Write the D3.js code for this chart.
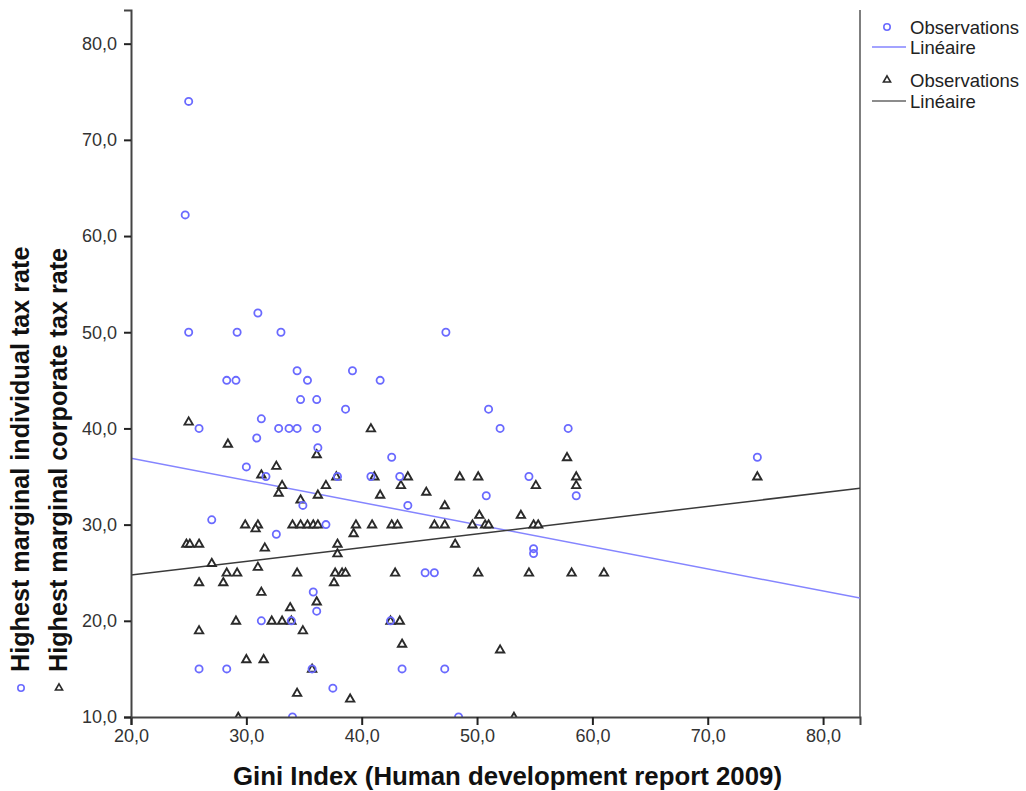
<!DOCTYPE html>
<html>
<head>
<meta charset="utf-8">
<script src="https://cdn.jsdelivr.net/npm/d3@7"></script>
<style>
  html, body { margin: 0; padding: 0; background: #fff; }
  svg { display: block; }
  text { font-family: Arial, "Liberation Sans", sans-serif; }
</style>
</head>
<body>
<svg id="chart" width="1026" height="791"></svg>
<script>
// Gini index vs. highest marginal individual tax rate (circles)
const individualGini = [25.0, 24.7, 25.0, 25.9, 27.0, 25.9, 28.3, 29.1, 29.2, 31.0, 30.9, 31.3, 30.0, 31.7, 32.6,
  33.0, 34.4, 35.3, 34.7, 36.1, 32.8, 33.7, 34.4, 36.1, 36.2, 34.9, 36.9, 35.8, 36.1, 31.3, 33.9, 28.3, 35.7,
  34.0, 37.5, 37.9, 38.6, 39.2, 41.6, 40.8, 42.6, 43.3, 44.0, 42.5, 43.5, 45.5, 46.3, 47.3, 47.2, 48.4, 50.8,
  51.0, 52.0, 54.5, 54.9, 54.9, 57.9, 58.6, 74.3];
const individualRate = [74.0, 62.2, 50.0, 40.0, 30.5, 15.0, 45.0, 45.0, 50.0, 52.0, 39.0, 41.0, 36.0, 35.0, 29.0,
  50.0, 46.0, 45.0, 43.0, 43.0, 40.0, 40.0, 40.0, 40.0, 38.0, 32.0, 30.0, 23.0, 21.0, 20.0, 20.0, 15.0, 15.0,
  10.0, 13.0, 35.0, 42.0, 46.0, 45.0, 35.0, 37.0, 35.0, 32.0, 20.0, 15.0, 25.0, 25.0, 50.0, 15.0, 10.0, 33.0,
  42.0, 40.0, 35.0, 27.5, 27.0, 40.0, 33.0, 37.0];

// Gini index vs. highest marginal corporate tax rate (triangles)
const corporateGini = [25.0, 28.4, 36.1, 40.8, 37.8, 41.1, 44.0, 48.5, 50.1, 36.9, 43.4, 36.2, 41.6, 45.6, 32.6,
  31.3, 33.1, 32.8, 34.7, 29.9, 31.0, 30.8, 34.0, 34.7, 35.3, 35.8, 36.2, 24.8, 25.1, 25.9, 31.6, 27.0, 31.0,
  28.3, 29.2, 34.4, 25.9, 28.0, 31.3, 36.1, 33.8, 29.1, 32.2, 33.1, 33.9, 34.9, 25.9, 30.0, 31.5, 35.7, 34.4,
  29.3, 53.2, 39.0, 47.2, 50.2, 39.5, 40.9, 42.6, 43.1, 46.3, 47.2, 49.6, 50.7, 51.0, 39.3, 37.9, 37.9, 48.1,
  37.7, 38.3, 38.6, 42.9, 50.1, 37.6, 42.5, 43.3, 43.5, 52.0, 57.8, 58.6, 55.1, 58.6, 53.8, 54.9, 55.3, 54.5,
  58.2, 61.0, 74.3];
const corporateRate = [40.7, 38.4, 37.3, 40.0, 35.0, 35.0, 35.0, 35.0, 35.0, 34.1, 34.1, 33.1, 33.1, 33.4, 36.1,
  35.2, 34.1, 33.3, 32.6, 30.0, 30.0, 29.6, 30.0, 30.0, 30.0, 30.0, 30.0, 28.0, 28.0, 28.0, 27.6, 26.0, 25.6,
  25.0, 25.0, 25.0, 24.0, 24.0, 23.0, 22.0, 21.4, 20.0, 20.0, 20.0, 20.0, 19.0, 19.0, 16.0, 16.0, 15.0, 12.5,
  10.0, 10.0, 11.9, 32.0, 31.0, 30.0, 30.0, 30.0, 30.0, 30.0, 30.0, 30.0, 30.0, 30.0, 29.1, 28.0, 27.0, 28.0,
  25.0, 25.0, 25.0, 25.0, 25.0, 24.0, 20.0, 20.0, 17.6, 17.0, 37.0, 35.0, 34.1, 34.1, 31.0, 30.0, 30.0, 25.0,
  25.0, 25.0, 35.0];

// Linear fits: [intercept at Gini = 20, slope]
const individualFit = [36.9, -0.230];
const corporateFit = [24.75, 0.143];

const xTicks = [20, 30, 40, 50, 60, 70, 80];
const yTicks = [10, 20, 30, 40, 50, 60, 70, 80];
const xDomain = [20, 83.2];
const yDomain = [10, 83.5];

const xTitle = "Gini Index (Human development report 2009)";
const yTitles = ["Highest marginal individual tax rate", "Highest marginal corporate tax rate"];
const legendLabels = ["Observations", "Linéaire", "Observations", "Linéaire"];

const blue = "#6a6aff";
const blueLine = "#8585ff";
const dark = "#2a2a2a";

const plot = { left: 131, top: 10, right: 860, bottom: 717 };

const svg = d3.select("#chart");
const x = d3.scaleLinear().domain(xDomain).range([plot.left, plot.right]);
const y = d3.scaleLinear().domain(yDomain).range([plot.bottom, plot.top]);
const fmt = v => d3.format(".1f")(v).replace(".", ",");

svg.append("defs").append("clipPath").attr("id", "plotClip")
  .append("rect")
  .attr("x", plot.left).attr("y", plot.top)
  .attr("width", plot.right - plot.left).attr("height", plot.bottom - plot.top);

// right edge of the data area
svg.append("line")
  .attr("x1", plot.right).attr("x2", plot.right)
  .attr("y1", plot.top).attr("y2", plot.bottom)
  .attr("stroke", "#555").attr("stroke-width", 1.5);

const g = svg.append("g").attr("clip-path", "url(#plotClip)");

// fit lines
function fitLine(fit, color) {
  const pts = xDomain.map(v => [v, fit[0] + fit[1] * (v - 20)]);
  g.append("path")
    .attr("d", d3.line().x(d => x(d[0])).y(d => y(d[1]))(pts))
    .attr("fill", "none").attr("stroke", color).attr("stroke-width", 1.5);
}
fitLine(individualFit, blueLine);
fitLine(corporateFit, "#3a3a3a");

const triPath = d3.symbol().type(d3.symbolTriangle).size(30)();

// triangles
g.selectAll("path.tri").data(d3.range(corporateGini.length)).join("path")
  .attr("class", "tri")
  .attr("d", triPath)
  .attr("transform", i => `translate(${x(corporateGini[i])},${y(corporateRate[i]) + 0.5})`)
  .attr("fill", "#fff").attr("stroke", dark).attr("stroke-width", 1.9);

// circles
g.selectAll("circle.obs").data(d3.range(individualGini.length)).join("circle")
  .attr("class", "obs")
  .attr("cx", i => x(individualGini[i]))
  .attr("cy", i => y(individualRate[i]))
  .attr("r", 3.6)
  .attr("fill", "none").attr("stroke", blue).attr("stroke-width", 1.8);

// axes
const xAxis = svg.append("g").attr("transform", `translate(0,${plot.bottom})`)
  .call(d3.axisBottom(x).tickValues(xTicks).tickFormat(fmt).tickSize(8).tickPadding(4));
const yAxis = svg.append("g").attr("transform", `translate(${plot.left},0)`)
  .call(d3.axisLeft(y).tickValues(yTicks).tickFormat(fmt).tickSize(7).tickPadding(7));

[xAxis, yAxis].forEach(a => {
  a.select(".domain").attr("stroke", "#444").attr("stroke-width", 2);
  a.selectAll(".tick line").attr("stroke", "#222").attr("stroke-width", 2);
  a.selectAll(".tick text").attr("fill", "#333").style("font-size", "18px");
});

// axis titles
svg.append("text")
  .attr("x", (plot.left + plot.right) / 2 + 12).attr("y", 785)
  .attr("text-anchor", "middle")
  .style("font-size", "25.8px").style("font-weight", "bold").attr("fill", "#111")
  .text(xTitle);

[20, 58].forEach((cx, i) => {
  svg.append("text")
    .attr("transform", `translate(${cx + 9},672) rotate(-90)`)
    .attr("text-anchor", "start")
    .style("font-size", "25.2px").style("font-weight", "bold").attr("fill", "#111")
    .text(yTitles[i]);
});
svg.append("circle").attr("cx", 21).attr("cy", 688).attr("r", 3.2)
  .attr("fill", "none").attr("stroke", blue).attr("stroke-width", 1.6);
svg.append("path").attr("d", d3.symbol().type(d3.symbolTriangle).size(22)())
  .attr("transform", "translate(59,688)")
  .attr("fill", "#fff").attr("stroke", dark).attr("stroke-width", 1.6);

// legend
const legend = svg.append("g");
const rows = [27, 47, 80, 101];
legend.append("circle").attr("cx", 887).attr("cy", rows[0]).attr("r", 3.2)
  .attr("fill", "none").attr("stroke", blue).attr("stroke-width", 1.6);
legend.append("line").attr("x1", 872).attr("x2", 906).attr("y1", rows[1]).attr("y2", rows[1])
  .attr("stroke", blueLine).attr("stroke-width", 1.5);
legend.append("path").attr("d", d3.symbol().type(d3.symbolTriangle).size(22)())
  .attr("transform", `translate(887,${rows[2]})`)
  .attr("fill", "#fff").attr("stroke", dark).attr("stroke-width", 1.6);
legend.append("line").attr("x1", 872).attr("x2", 906).attr("y1", rows[3]).attr("y2", rows[3])
  .attr("stroke", "#666").attr("stroke-width", 1.5);
rows.forEach((ry, i) => {
  legend.append("text").attr("x", 910).attr("y", ry + 7)
    .style("font-size", "18.5px").attr("fill", "#222").text(legendLabels[i]);
});
</script>
</body>
</html>
